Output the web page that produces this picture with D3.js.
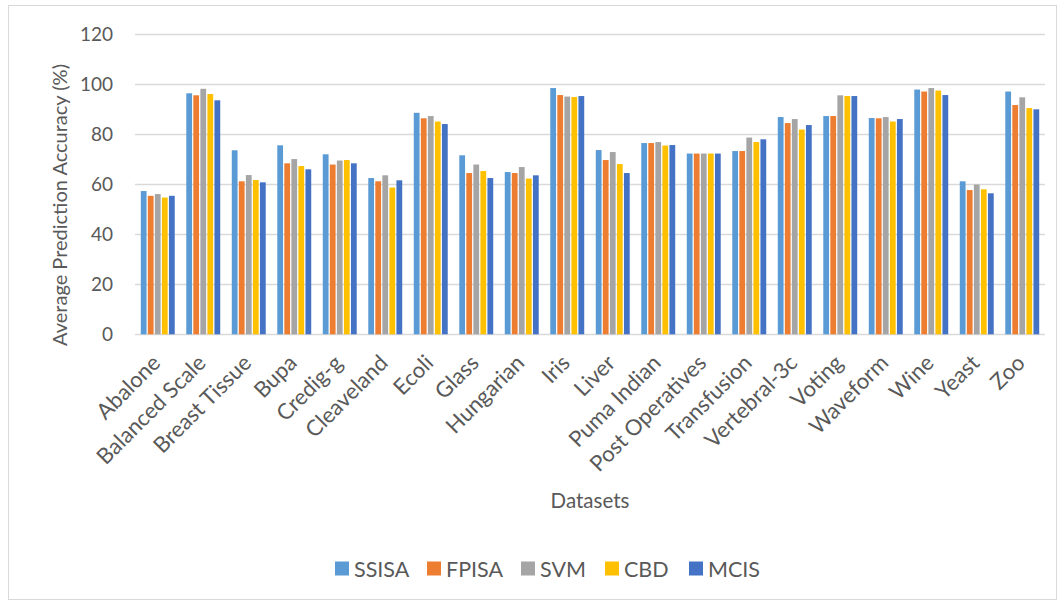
<!DOCTYPE html>
<html>
<head>
<meta charset="utf-8">
<script src="https://cdn.jsdelivr.net/npm/d3@7"></script>
<style>
  html, body { margin: 0; padding: 0; background: #fff; }
  svg { display: block; }
  text { font-family: Lato, "Open Sans", "Liberation Sans", sans-serif; fill: #595959; }
</style>
</head>
<body>
<svg id="chart" width="1064" height="606"></svg>
<script>
// Dataset names along the x axis
const datasets = ["Abalone", "Balanced Scale", "Breast Tissue", "Bupa", "Credig-g", "Cleaveland",
  "Ecoli", "Glass", "Hungarian", "Iris", "Liver", "Puma Indian", "Post Operatives", "Transfusion",
  "Vertebral-3c", "Voting", "Waveform", "Wine", "Yeast", "Zoo"];

// Average prediction accuracy (%) per method
const ssisa = [57.3, 96.4, 73.6, 75.6, 72.0, 62.5, 88.6, 71.6, 64.9, 98.5, 73.7, 76.5, 72.3, 73.3, 86.9, 87.3, 86.5, 97.9, 61.2, 97.1];
const fpisa = [55.4, 95.6, 61.2, 68.4, 67.9, 61.2, 86.4, 64.5, 64.5, 95.7, 69.7, 76.5, 72.3, 73.3, 84.5, 87.3, 86.4, 97.1, 57.7, 91.7];
const svm   = [56.1, 98.2, 63.7, 70.1, 69.5, 63.6, 87.3, 67.9, 66.9, 95.1, 72.9, 76.9, 72.3, 78.7, 86.1, 95.6, 86.9, 98.5, 59.9, 94.8];
const cbd   = [54.7, 96.1, 61.7, 67.3, 69.7, 58.7, 85.1, 65.3, 62.3, 94.9, 68.1, 75.5, 72.3, 76.9, 81.9, 95.3, 85.1, 97.5, 58.0, 90.5];
const mcis  = [55.4, 93.6, 60.8, 66.0, 68.4, 61.6, 84.1, 62.5, 63.6, 95.3, 64.5, 75.7, 72.3, 78.0, 83.7, 95.3, 86.1, 95.7, 56.4, 90.0];

const seriesNames = ["SSISA", "FPISA", "SVM", "CBD", "MCIS"];
const seriesValues = [ssisa, fpisa, svm, cbd, mcis];
const seriesColors = ["#5B9BD5", "#ED7D31", "#A5A5A5", "#FFC000", "#4472C4"];
const yTicks = [0, 20, 40, 60, 80, 100, 120];

const svg = d3.select("#chart");

// Chart frame
svg.append("rect")
  .attr("x", 8.5).attr("y", 5.5)
  .attr("width", 1048).attr("height", 594)
  .attr("fill", "#fff").attr("stroke", "#D9D9D9").attr("stroke-width", 1);

const plot = { left: 135, right: 1045, top: 34.3, bottom: 334.3 };

const x = d3.scaleBand()
  .domain(datasets)
  .range([plot.left, plot.right])
  .paddingInner(0.254)
  .paddingOuter(0.127);

const xInner = d3.scaleBand()
  .domain(seriesNames)
  .range([0, x.bandwidth()])
  .paddingInner(0.18);

const y = d3.scaleLinear().domain([0, 120]).range([plot.bottom, plot.top]);

// Horizontal gridlines
svg.append("g")
  .selectAll("line")
  .data(yTicks)
  .join("line")
  .attr("x1", plot.left).attr("x2", plot.right)
  .attr("y1", d => Math.round(y(d)) + 0.5).attr("y2", d => Math.round(y(d)) + 0.5)
  .attr("stroke", "#D9D9D9").attr("stroke-width", 1.3);

// Y axis tick labels
const yAxis = d3.axisLeft(y).tickValues(yTicks).tickSize(0).tickPadding(0);
const yg = svg.append("g").attr("transform", `translate(${plot.left - 22},0)`).call(yAxis);
yg.select(".domain").remove();
yg.selectAll("text")
  .attr("font-size", 19)
  .style("font-family", "Lato, 'Open Sans', sans-serif")
  .attr("fill", "#595959");

// Bars
const groups = svg.append("g")
  .selectAll("g")
  .data(datasets)
  .join("g")
  .attr("transform", d => `translate(${x(d)},0)`);

groups.selectAll("rect")
  .data((d, i) => seriesNames.map((s, j) => ({ s, v: seriesValues[j][i], c: seriesColors[j] })))
  .join("rect")
  .attr("x", d => xInner(d.s))
  .attr("width", xInner.bandwidth())
  .attr("y", d => y(d.v))
  .attr("height", d => y(0) - y(d.v))
  .attr("fill", d => d.c);

// X axis category labels, rotated
const xAxis = d3.axisBottom(x).tickSize(0).tickPadding(0);
const xg = svg.append("g").attr("transform", `translate(0,${plot.bottom})`).call(xAxis);
xg.select(".domain").remove();
xg.selectAll("text")
  .attr("font-size", 22)
  .style("font-family", "Lato, 'Open Sans', sans-serif")
  .attr("fill", "#595959")
  .attr("text-anchor", "end")
  .attr("dy", 0)
  .attr("y", 0)
  .attr("transform", "translate(4,30) rotate(-45)");

// Axis titles
svg.append("text")
  .attr("transform", "translate(67,205) rotate(-90)")
  .attr("text-anchor", "middle")
  .attr("font-size", 20)
  .text("Average Prediction Accuracy (%)");

svg.append("text")
  .attr("x", 590).attr("y", 508)
  .attr("text-anchor", "middle")
  .attr("font-size", 20.5)
  .text("Datasets");

// Legend
const legendX = [335, 427, 521, 605, 689];
const legend = svg.append("g")
  .selectAll("g")
  .data(seriesNames)
  .join("g")
  .attr("transform", (d, i) => `translate(${legendX[i]},561.5)`);
legend.append("rect")
  .attr("width", 14).attr("height", 14)
  .attr("fill", (d, i) => seriesColors[i]);
legend.append("text")
  .attr("x", 19).attr("y", 15)
  .attr("font-size", 21.5)
  .text(d => d);
</script>
</body>
</html>
